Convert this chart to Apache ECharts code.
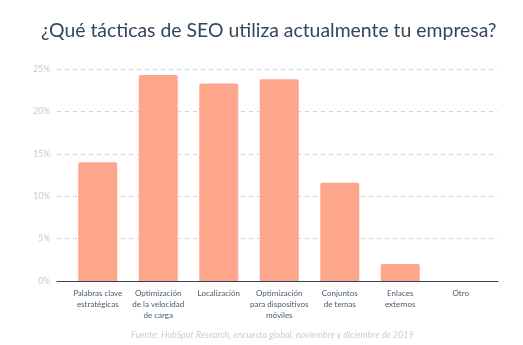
<!DOCTYPE html>
<html>
<head>
<meta charset="utf-8">
<script src="https://cdn.jsdelivr.net/npm/echarts@6/dist/echarts.min.js"></script>
<style>
  html, body { margin: 0; padding: 0; background: #ffffff; }
  #chart { width: 523px; height: 345px; }
</style>
</head>
<body>
<div id="chart"></div>
<script>
// Survey answers: SEO tactics in use (% of respondents)
const categories = [
  'Palabras clave\nestratégicas',
  'Optimización\nde la velocidad\nde carga',
  'Localización',
  'Optimización\npara dispositivos\nmóviles',
  'Conjuntos\nde temas',
  'Enlaces\nexternos',
  'Otro'
];
const shares = [14.0, 24.3, 23.3, 23.8, 11.6, 2.0, 0];
const yTicks = [0, 5, 10, 15, 20, 25];

const titleText = '¿Qué tácticas de SEO utiliza actualmente tu empresa?';
const sourceText = 'Fuente: HubSpot Research, encuesta global, noviembre y diciembre de 2019';

const FONT = 'Lato, "Open Sans", sans-serif';
const INK = '#33475b';

const chart = echarts.init(document.getElementById('chart'), null, { renderer: 'canvas' });

chart.setOption({
  backgroundColor: '#ffffff',
  animation: false,
  title: [
    {
      text: titleText,
      left: 36,
      top: 16,
      textStyle: { fontFamily: FONT, fontSize: 19.4, fontWeight: 'normal', color: INK }
    },
    {
      text: sourceText,
      left: 126,
      top: 326,
      textStyle: { fontFamily: FONT, fontSize: 9, fontWeight: 'normal', fontStyle: 'italic', color: '#c8ced6' }
    }
  ],
  grid: [
    // frame grid: gridlines, y labels and baseline span slightly wider than the bars
    { left: 57, right: 25, top: 69, bottom: 64, containLabel: false },
    // bar grid
    { left: 67.5, right: 32, top: 69, bottom: 64, containLabel: false }
  ],
  xAxis: [
    {
      gridIndex: 0, type: 'value', min: 0, max: 1,
      axisLine: { show: true, onZero: false, lineStyle: { color: INK, width: 1.2 } },
      axisTick: { show: false }, axisLabel: { show: false }, splitLine: { show: false }
    },
    {
      gridIndex: 1, type: 'category', data: categories,
      axisLine: { show: false }, axisTick: { show: false },
      axisLabel: {
        interval: 0, margin: 7,
        fontFamily: FONT, fontSize: 8, lineHeight: 11, color: '#4a5b6c', align: 'center'
      }
    }
  ],
  yAxis: [
    {
      gridIndex: 0, type: 'value', min: 0, max: 25, interval: 5,
      axisLine: { show: false }, axisTick: { show: false },
      axisLabel: {
        margin: 7, fontFamily: FONT, fontSize: 8.5, color: '#c3cad3',
        formatter: v => (yTicks.includes(v) ? v + '%' : '')
      },
      splitLine: { show: true, lineStyle: { color: '#d3d8de', type: [4, 4], width: 1 } }
    },
    {
      gridIndex: 1, type: 'value', min: 0, max: 25, interval: 5,
      axisLine: { show: false }, axisTick: { show: false },
      axisLabel: { show: false }, splitLine: { show: false }
    }
  ],
  series: [
    {
      type: 'bar',
      xAxisIndex: 1, yAxisIndex: 1,
      data: shares,
      barWidth: 39,
      itemStyle: { color: '#fda68b', borderRadius: [2, 2, 0, 0] },
      z: 3
    }
  ]
});
</script>
</body>
</html>
